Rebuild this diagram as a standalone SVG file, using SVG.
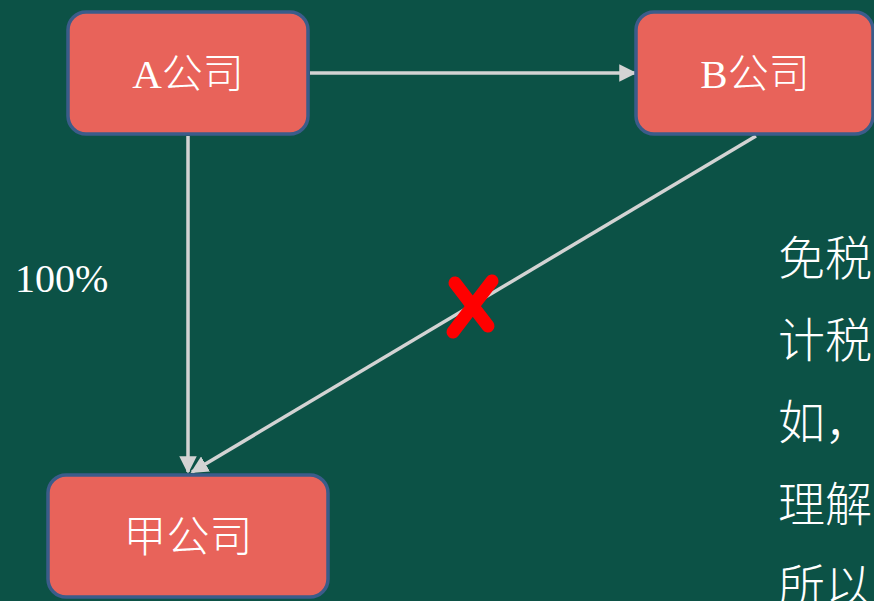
<svg xmlns="http://www.w3.org/2000/svg" width="874" height="601" viewBox="0 0 874 601">
<defs>
<style>
.box{fill:#E8635A;stroke:#3B5C8A;stroke-width:3.5}
.lbl{fill:#FFFFFF;font-family:"Liberation Serif","Noto Sans CJK SC",serif;text-anchor:middle;font-weight:300}
.con{stroke:#D3D3D3;stroke-width:3.5;fill:none}
.txt{fill:#FFFFFF;font-family:"Noto Sans CJK SC",sans-serif;font-size:47px;font-weight:300}
</style>
<marker id="ah" viewBox="0 0 10 10" refX="9" refY="5" markerWidth="5" markerHeight="5" markerUnits="strokeWidth" orient="auto">
<path d="M0,0 L10,5 L0,10 z" fill="#D3D3D3"/>
</marker>
</defs>
<rect width="874" height="601" fill="#0C5246"/>
<g id="connectors">
<line class="con" x1="310" y1="73" x2="635" y2="73" marker-end="url(#ah)"/>
<line class="con" x1="188" y1="136" x2="188" y2="472" marker-end="url(#ah)"/>
<line class="con" x1="756" y1="136" x2="192" y2="472" marker-end="url(#ah)"/>
</g>
<g id="nodeA">
<rect class="box" x="68" y="12" width="240" height="122" rx="18"/>
<text class="lbl" x="188" y="88" font-size="41">A公司</text>
</g>
<g id="nodeB">
<rect class="box" x="636" y="12" width="237" height="122" rx="18"/>
<text class="lbl" x="755" y="88" font-size="41">B公司</text>
</g>
<g id="nodeJia">
<rect class="box" x="48" y="475" width="280" height="122" rx="18"/>
<text class="lbl" x="188" y="552" font-size="43">甲公司</text>
</g>
<text x="15" y="292" fill="#FFFFFF" font-family="Liberation Serif,serif" font-size="40">100%</text>
<g id="cross" stroke="#FF0000" stroke-width="13" stroke-linecap="round">
<line x1="455" y1="283" x2="488" y2="326"/>
<line x1="492" y1="281" x2="453" y2="332"/>
</g>
<g id="sidetext">
<text class="txt" x="778" y="275">免税</text>
<text class="txt" x="778" y="357">计税</text>
<text class="txt" x="778" y="439">如，</text>
<text class="txt" x="778" y="521">理解</text>
<text class="txt" x="778" y="603">所以</text>
</g>
</svg>
